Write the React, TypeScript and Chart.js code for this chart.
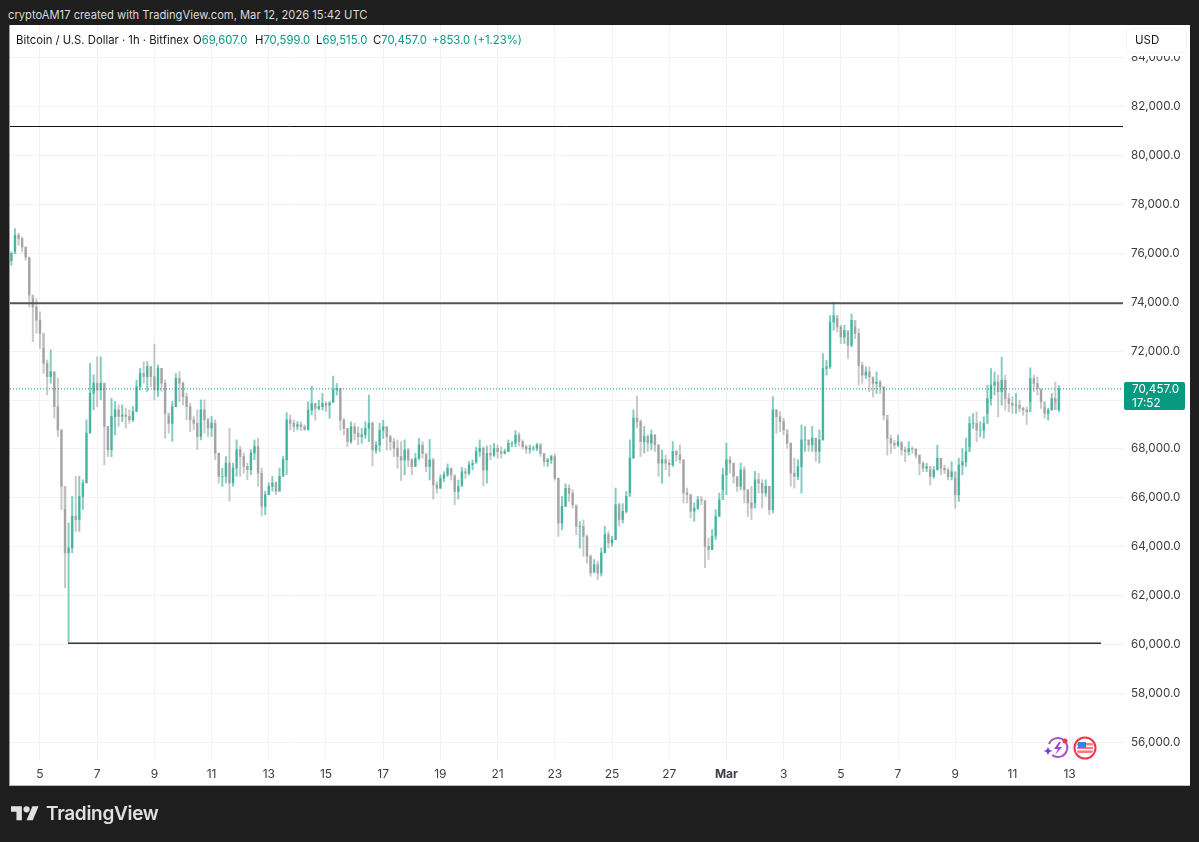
import { useEffect, useRef } from "react"
import { Chart, registerables } from "chart.js"

Chart.register(...registerables)

const FONT = "Inter, 'Noto Sans', sans-serif"

// 3h candles, open = previous close
const firstHour = -24
const candleStep = 3
const firstOpen = 75700

const highs = [
  76060, 77010, 76830, 76670, 76260, 75790, 74150, 74150, 73610, 72110,
  71640, 72050, 71160, 70890, 68780, 65520, 64970, 66060, 66880, 66880,
  66740, 69190, 71500, 71030, 71770, 71770, 70690, 68920, 70070, 69940,
  69800, 69800, 69670, 69600, 69730, 70820, 71300, 71570, 71570, 71370,
  72290, 71430, 71300, 70820, 69330, 69940, 71090, 71160, 70750, 70280,
  69870, 69330, 69600, 70010, 70010, 69260, 69330, 69190, 67830, 67220,
  67690, 68850, 67420, 68370, 68100, 67830, 67420, 67970, 68370, 68440,
  67220, 66270, 66610, 66880, 66670, 67220, 67690, 69490, 69390, 69190,
  69120, 69110, 68980, 69930, 70570, 69860, 70000, 70270, 69930, 69930,
  70980, 70680, 70470, 69250, 68840, 69110, 69050, 68910, 68840, 69110,
  70200, 69110, 68300, 69050, 69180, 68910, 68570, 68430, 68370, 68300,
  68370, 68030, 67620, 67820, 68430, 68300, 67750, 68390, 67620, 66670,
  66940, 67070, 67390, 67210, 66870, 66730, 67250, 67210, 67480, 67550,
  68070, 68370, 68090, 68120, 68160, 68230, 68160, 68090, 67990, 68370,
  68300, 68750, 68660, 68370, 68160, 68160, 68120, 68230, 68230, 67790,
  67620, 67750, 67790, 66800, 66050, 66570, 66530, 66330, 65650, 65030,
  65100, 64490, 63670, 63480, 63410, 63950, 64840, 64630, 64430, 66400,
  65790, 65760, 66260, 68370, 69600, 70170, 69190, 68920, 68580, 68780,
  68580, 68170, 67960, 67760, 67560, 68300, 67960, 68170, 67560, 66400,
  66130, 65790, 66060, 66060, 65860, 64360, 64700, 65520, 66200, 67220,
  68240, 67690, 67420, 66810, 67420, 67280, 66330, 66470, 67080, 67010,
  66740, 66740, 66470, 70140, 69600, 69530, 69260, 68580, 68240, 67620,
  67560, 68980, 68920, 68370, 68920, 68440, 68780, 71900, 71630, 73460,
  74010, 73330, 73060, 73060, 72780, 73530, 72990, 72920, 71560, 71360,
  71360, 70880, 71150, 70810, 70540, 69180, 68570, 68360, 68570, 68230,
  68090, 68300, 68090, 68020, 67750, 67480, 67410, 67140, 67280, 68160,
  67620, 67340, 67210, 67480, 66800, 67620, 68020, 68430, 69320, 69450,
  69520, 69110, 69320, 70610, 71290, 71150, 71020, 71760, 71020, 70270,
  70130, 70270, 69990, 69720, 69720, 71320, 71020, 70950, 70400, 69720,
  69660, 70270, 70740, 70599,
]

const lows = [
  75510, 76060, 76330, 76060, 75720, 73810, 72390, 72730, 72110, 71090,
  70210, 70690, 69260, 68510, 65520, 62320, 60100, 63750, 64630, 64630,
  65520, 66610, 68650, 69600, 69730, 70010, 67350, 67690, 67690, 68580,
  68920, 69120, 68850, 69050, 69120, 69530, 70410, 70690, 70350, 70550,
  70010, 70140, 70350, 68440, 68650, 68310, 69730, 69940, 69800, 69190,
  68710, 68780, 67970, 68370, 68650, 68510, 68510, 67560, 66610, 66470,
  66610, 65860, 66470, 66880, 66880, 67010, 66740, 66950, 67560, 66470,
  65250, 65310, 66130, 66270, 66130, 66270, 66880, 66950, 68780, 68710,
  68780, 68750, 68750, 68770, 69390, 69180, 69590, 69590, 69520, 69250,
  69930, 70200, 68770, 68570, 68090, 68230, 68370, 68160, 68230, 68430,
  68300, 67300, 67820, 67890, 68430, 67960, 67960, 67690, 67210, 66710,
  66940, 67280, 66940, 67280, 67550, 67620, 67070, 66730, 65950, 66190,
  66390, 66670, 66870, 66730, 65710, 65950, 66530, 66800, 66940, 67140,
  67480, 67690, 66490, 66600, 67550, 67690, 67620, 67620, 67790, 67890,
  68090, 68090, 68120, 67990, 67820, 67820, 67930, 67930, 67690, 67300,
  67280, 67410, 66730, 64420, 64690, 65650, 65850, 65580, 64490, 63950,
  63610, 63330, 62790, 63000, 62660, 62800, 63750, 63950, 64020, 64290,
  64840, 64970, 65380, 66200, 67620, 68850, 67690, 67830, 67900, 67960,
  67900, 66880, 66600, 67150, 66880, 67280, 67490, 67420, 65790, 65790,
  65180, 65040, 65520, 65720, 63140, 63480, 63880, 64290, 65240, 66330,
  66130, 67010, 66600, 66260, 66330, 65790, 65240, 65110, 65790, 66200,
  65580, 66060, 65310, 65380, 68640, 68710, 68580, 68030, 66470, 66400,
  66740, 66200, 67900, 67900, 67900, 67490, 67420, 68360, 71020, 71290,
  72850, 72780, 72310, 72310, 71700, 72170, 72510, 70610, 70680, 70880,
  70340, 70130, 70270, 70270, 69180, 67750, 67820, 68020, 68090, 67750,
  67480, 67750, 67820, 67620, 66940, 67070, 67070, 66530, 66800, 67140,
  66940, 67000, 66730, 66730, 65580, 65850, 66940, 67280, 68090, 68840,
  68300, 68500, 68430, 69450, 69790, 70200, 69320, 69790, 69590, 69520,
  69450, 69450, 69520, 69380, 69000, 69930, 70340, 70200, 69660, 69250,
  69180, 69590, 69930, 69515,
]

const closes = [
  75990, 76740, 76600, 76260, 75850, 74290, 73810, 73270, 72730, 71500,
  70960, 71160, 69730, 68780, 66470, 63750, 63950, 65250, 65110, 66060,
  66610, 68650, 70280, 70690, 70410, 70690, 68920, 67970, 69330, 69600,
  69330, 69390, 69330, 69190, 69530, 70550, 71090, 70960, 71370, 70960,
  70410, 71300, 70690, 69460, 69050, 69730, 70890, 70690, 70140, 69730,
  69190, 69050, 68510, 69600, 69190, 68850, 69050, 67830, 66880, 66880,
  67420, 66610, 67220, 67970, 67690, 67290, 67150, 67830, 68100, 67010,
  65650, 66130, 66470, 66610, 66270, 66880, 67560, 69190, 69050, 68920,
  68990, 68910, 68800, 69590, 69860, 69660, 69730, 69860, 69790, 69890,
  70410, 70470, 69180, 68840, 68300, 68910, 68640, 68500, 68570, 68840,
  69050, 67960, 68160, 68770, 68910, 68500, 68300, 68030, 67690, 67550,
  67960, 67550, 67280, 67620, 68160, 67820, 67280, 67550, 66530, 66390,
  66800, 66940, 67210, 66940, 66260, 66460, 67070, 67010, 67350, 67410,
  67890, 68030, 67140, 67820, 67750, 68030, 67890, 67820, 67890, 68230,
  68230, 68570, 68300, 68090, 67990, 68030, 68030, 68160, 67820, 67480,
  67550, 67690, 66800, 64970, 65650, 66390, 66190, 65710, 64830, 64830,
  64420, 63610, 62930, 63270, 62930, 63750, 64500, 64160, 64290, 65720,
  65110, 65450, 66060, 67620, 69260, 69120, 68300, 68510, 68240, 68580,
  68170, 67420, 67560, 67420, 67350, 67900, 67760, 67560, 66200, 66130,
  65450, 65580, 65920, 65900, 64020, 63880, 64430, 65240, 65920, 66940,
  67560, 67420, 66880, 66470, 67150, 66330, 65790, 65580, 66740, 66600,
  66200, 66470, 65520, 69600, 69320, 69120, 68780, 68240, 67010, 66880,
  67280, 68370, 68370, 68170, 68440, 67900, 68370, 71290, 71360, 73190,
  73460, 72990, 72580, 72850, 72240, 73260, 72720, 71420, 71020, 71150,
  70950, 70680, 70740, 70540, 69380, 68430, 68230, 68160, 68300, 67960,
  67890, 68020, 67990, 67750, 67410, 67210, 67280, 66870, 67140, 67620,
  67210, 67140, 66870, 67070, 66120, 67340, 67480, 67890, 69040, 69040,
  68770, 68770, 69040, 70060, 70610, 70740, 70340, 70810, 70060, 69860,
  69790, 69790, 69660, 69590, 69520, 70880, 70680, 70470, 69930, 69450,
  69590, 70060, 69607, 70457,
]

// hours counted from Feb 5 00:00
const dayHours = [0, 48, 96, 144, 192, 240, 288, 336, 384, 432, 480, 528, 576, 624, 672, 720, 768, 816, 864]
const dayLabels = ["5", "7", "9", "11", "13", "15", "17", "19", "21", "23", "25", "27", "Mar", "3", "5", "7", "9", "11", "13"]
const priceTicks = [56000, 58000, 60000, 62000, 64000, 66000, 68000, 70000, 72000, 74000, 76000, 78000, 80000, 82000, 84000]

const lastPrice = 70457
const upperLevel = 81190
const middleLevel = 73958
const lowerLevel = 60053
const lowerLevelStart = 23.5
const lowerLevelEnd = 890.3

const hourMin = -25.17
const hourMax = 908.8
const priceMin = 55276
const priceMax = 85342

const quoteParts = [
  { key: "O", value: "69,607.0", left: 193 },
  { key: "H", value: "70,599.0", left: 255 },
  { key: "L", value: "69,515.0", left: 316 },
  { key: "C", value: "70,457.0", left: 373 },
]

const UP_WICK = "rgba(8,153,129,0.5)"
const UP_BODY = "rgba(8,153,129,0.5)"
const DOWN_WICK = "rgba(125,125,125,0.42)"
const DOWN_BODY = "rgba(125,125,125,0.5)"

export default function App() {
  const chartRef = useRef<HTMLCanvasElement>(null)

  useEffect(() => {
    if (!chartRef.current) return
    const hours = closes.map((_, i) => firstHour + i * candleStep)
    const opens = closes.map((_, i) => (i === 0 ? firstOpen : closes[i - 1]))
    const isUp = closes.map((c, i) => c >= opens[i])

    const levelLine = (level: number, color: string, width: number, from = hourMin, to = hourMax) => ({
      type: "line" as const,
      data: [
        { x: from, y: level },
        { x: to, y: level },
      ],
      borderColor: color,
      borderWidth: width,
      pointRadius: 0,
      order: 0,
    })

    const chart = new Chart(chartRef.current, {
      type: "bar",
      data: {
        datasets: [
          levelLine(upperLevel, "#111111", 1),
          levelLine(middleLevel, "#555555", 2),
          levelLine(lowerLevel, "#333333", 1.4, lowerLevelStart, lowerLevelEnd),
          { ...levelLine(lastPrice, "#089981", 1), borderDash: [1, 2] },
          {
            data: hours.map((x, i) => ({ x, y: [opens[i], closes[i]] })),
            backgroundColor: isUp.map((u) => (u ? UP_BODY : DOWN_BODY)),
            barThickness: 1.9,
            grouped: false,
            order: 1,
          },
          {
            data: hours.map((x, i) => ({ x, y: [lows[i], highs[i]] })),
            backgroundColor: isUp.map((u) => (u ? UP_WICK : DOWN_WICK)),
            barThickness: 1.3,
            grouped: false,
            order: 2,
          },
        ] as any,
      },
      options: {
        animation: false,
        responsive: false,
        layout: { padding: { left: 10, top: 25, right: 9, bottom: 56 } },
        plugins: { legend: { display: false }, tooltip: { enabled: false } },
        scales: {
          x: {
            type: "linear",
            min: hourMin,
            max: hourMax,
            offset: false,
            grid: { color: "#f3f3f3", drawTicks: false, offset: false },
            border: { display: false },
            afterFit: (scale: any) => {
              scale.height = 26
            },
            afterBuildTicks: (scale: any) => {
              scale.ticks = dayHours.map((value) => ({ value }))
            },
            ticks: {
              autoSkip: false,
              maxRotation: 0,
              padding: 7,
              color: "#3a3d45",
              font: (ctx: any) => ({
                family: FONT,
                size: 12,
                weight: ctx.tick && ctx.tick.label === "Mar" ? "bold" : "normal",
              }),
              callback: (value: any) => dayLabels[dayHours.indexOf(Number(value))],
            },
          },
          y: {
            position: "right",
            min: priceMin,
            max: priceMax,
            grid: { color: "#f3f3f3", drawTicks: false },
            border: { display: false },
            afterFit: (scale: any) => {
              scale.width = 67
            },
            afterBuildTicks: (scale: any) => {
              scale.ticks = priceTicks.map((value) => ({ value }))
            },
            ticks: {
              autoSkip: false,
              padding: 8,
              color: "#3a3d45",
              font: { family: FONT, size: 11.7 },
              callback: (value: any) =>
                Number(value).toLocaleString("en-US", { minimumFractionDigits: 1 }),
            },
          },
        },
      },
    })

    return () => chart.destroy()
  }, [])

  return (
    <div style={{ position: "fixed", inset: 0, background: "#1e1e1e", fontFamily: FONT, overflow: "hidden" }}>
      <style>{`body{margin:0}`}</style>
      <div style={{ position: "absolute", left: 8, top: 8, fontSize: 11.2, color: "#d9d9d9", whiteSpace: "nowrap" }}>
        cryptoAM17 created with TradingView.com, Mar 12, 2026 15:42 UTC
      </div>
      <div
        style={{
          position: "absolute",
          left: 9,
          top: 25,
          width: 1180,
          height: 760,
          background: "#fff",
          borderLeft: "1px solid #9a9a9a",
          borderBottom: "1px solid #bdbdbd",
        }}
      />
      <canvas ref={chartRef} width={1199} height={842} style={{ position: "absolute", left: 0, top: 0 }} />

      <div style={{ position: "absolute", left: 16, top: 33, fontSize: 11.3, color: "#131722", whiteSpace: "nowrap" }}>
        Bitcoin / U.S. Dollar · 1h · Bitfinex
      </div>
      {quoteParts.map((q) => (
        <div key={q.key} style={{ position: "absolute", left: q.left, top: 33, fontSize: 11.3, whiteSpace: "nowrap", color: "#131722" }}>
          {q.key}
          <span style={{ color: "#089981" }}>{q.value}</span>
        </div>
      ))}
      <div style={{ position: "absolute", left: 432, top: 33, fontSize: 11.3, color: "#089981", whiteSpace: "nowrap" }}>
        +853.0 (+1.23%)
      </div>

      <div
        style={{
          position: "absolute",
          left: 1127,
          top: 29,
          width: 59,
          height: 23,
          background: "#fff",
          borderRadius: 5,
          boxShadow: "0 0 0 1px #f4f4f4, 0 3px 0 1px #fff",
          fontSize: 11.5,
          lineHeight: "23px",
          paddingLeft: 8,
          boxSizing: "border-box",
          color: "#131722",
        }}
      >
        USD
      </div>

      <div
        style={{
          position: "absolute",
          left: 1124,
          top: 382,
          width: 61,
          height: 28,
          background: "#089981",
          borderRadius: 2,
          color: "#fff",
          fontSize: 11.7,
          lineHeight: "13.5px",
          padding: "1px 0 0 8px",
          boxSizing: "border-box",
        }}
      >
        70,457.0
        <br />
        17:52
      </div>

      <svg style={{ position: "absolute", left: 1043, top: 736 }} width={56} height={24} viewBox="0 0 56 24">
        <path d="M6 8 A9.5 9.5 0 1 1 9 19" fill="none" stroke="#a855c8" strokeWidth={2} />
        <path d="M16 6 L11 13 L15 13 L12 19 L19 11 L15 11 L18 6 Z" fill="#9c40d8" />
        <path d="M5 11 L6.5 14 L9.5 15 L6.5 16 L5 19 L3.5 16 L0.5 15 L3.5 14 Z" fill="#6d3fe0" />
        <circle cx={22} cy={5} r={2.5} fill="#f23645" />
        <circle cx={42} cy={12} r={10.5} fill="#fff" stroke="#f23645" strokeWidth={2} />
        <rect x={34} y={7} width={16} height={10} rx={2} fill="#f77c80" />
        <rect x={34} y={9.5} width={16} height={1.4} fill="#fff" />
        <rect x={34} y={13} width={16} height={1.4} fill="#fff" />
        <rect x={35} y={6} width={8} height={6} fill="#3d7fe0" />
      </svg>

      <svg style={{ position: "absolute", left: 11, top: 803 }} width={28} height={22} viewBox="0 0 36 28">
        <path d="M14 22H7V11H0V4h14v18zM28 22h-8l7.5-18h8L28 22z" fill="#e0e0e0" />
        <circle cx={20} cy={8} r={4} fill="#e0e0e0" />
      </svg>
      <div style={{ position: "absolute", left: 46, top: 802, fontSize: 19, fontWeight: 600, color: "#e0e0e0", letterSpacing: -0.3 }}>
        TradingView
      </div>
    </div>
  )
}
